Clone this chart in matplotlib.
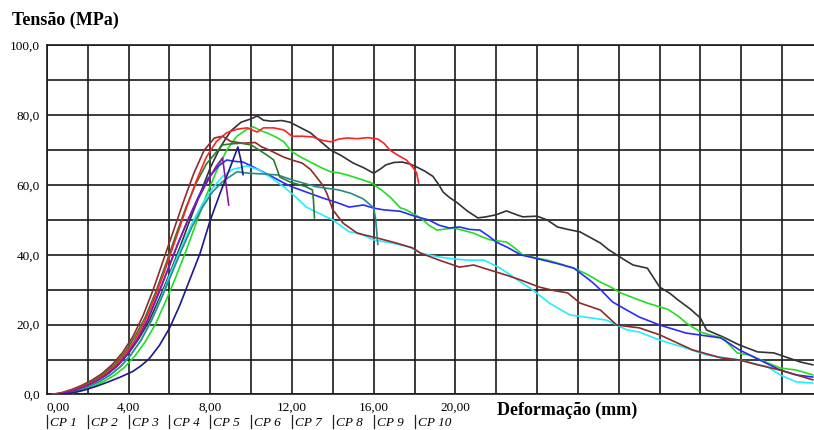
import numpy as np
import matplotlib
matplotlib.use("Agg")
from matplotlib import pyplot as plt
from matplotlib.transforms import blended_transform_factory

plt.rcParams['font.family'] = ['Liberation Serif', 'DejaVu Serif']

# curves (deformation mm, stress MPa)
x_black = [0.4, 1.0, 1.5, 2.0, 2.5, 3.0, 3.5, 4.0, 4.5, 5.0, 5.5, 6.0, 6.5, 7.0, 7.5, 8.0, 8.5, 9.0, 9.5, 10.0,
           10.3, 10.6, 11.0, 11.5, 11.9, 12.4, 12.9, 13.4, 13.9, 14.4, 15.0, 15.5, 16.0, 16.3, 16.6, 17.0, 17.4,
           17.8, 18.1, 18.5, 18.9, 19.2, 19.4, 19.7, 20.1, 20.6, 21.1, 21.5, 22.0, 22.5, 23.0, 23.3, 24.0, 24.5,
           25.0, 25.5, 26.1, 26.6, 27.1, 27.5, 27.9, 28.3, 28.7, 29.4, 29.7, 30.0, 30.5, 30.9, 31.5, 32.0, 32.3,
           33.1, 33.9, 34.8, 35.6, 36.2, 36.9, 37.5]
y_black = [0, 0.7, 1.6, 2.8, 4.2, 6.0, 8.5, 11.8, 16, 21, 27.5, 34.5, 42, 50, 57.5, 65, 71, 75.5, 78, 79,
           79.8, 78.6, 78.3, 78.5, 78, 76.5, 75, 72.5, 70, 68.5, 66.3, 65, 63.4, 64.5, 65.8, 66.5, 66.6,
           66, 65.2, 64, 62.5, 60, 58, 56.5, 54.9, 52.5, 50.6, 50.9, 51.5, 52.6, 51.5, 50.9, 51.1, 50,
           48, 47.3, 46.6, 45, 43.4, 41.5, 40, 38.5, 37.1, 36.2, 33.5, 30.8, 29, 27.1, 24.5, 21.9, 18.5,
           16.5, 14.2, 12.2, 11.9, 10.7, 9.3, 8.5]

x_red = [0.3, 0.8, 1.3, 1.8, 2.3, 2.8, 3.3, 3.8, 4.3, 4.8, 5.3, 5.8, 6.3, 6.8, 7.3, 7.8, 8.3, 8.8, 9.3, 9.8,
         10.3, 10.6, 11.1, 11.6, 12.0, 12.5, 13.0, 13.5, 13.9, 14.3, 14.7, 15.2, 15.7, 16.2, 16.5, 16.8, 17.2,
         17.6, 17.9, 18.1, 18.2]
y_red = [0, 0.5, 1.3, 2.4, 3.8, 5.6, 8, 11.3, 15.5, 21, 28, 36, 44.5, 53, 61, 68, 72.5, 75, 76, 76.4,
         75.2, 76.4, 76.4, 75.8, 74, 74, 73.8, 72.8, 72.4, 73.2, 73.5, 73.3, 73.6, 73.2, 72, 70, 68.5,
         67.2, 65.2, 63.5, 60.6]

x_green = [0.8, 1.3, 1.8, 2.3, 2.8, 3.3, 3.8, 4.3, 4.8, 5.3, 5.8, 6.3, 6.8, 7.3, 7.8, 8.3, 8.8, 9.3, 9.8, 10.1,
           10.5, 10.8, 11.2, 11.6, 12.0, 12.5, 13.0, 13.5, 13.9, 14.3, 14.7, 15.3, 15.9, 16.4, 16.8, 17.3, 17.6,
           18.3, 18.7, 19.1, 19.9, 20.4, 20.9, 21.3, 21.7, 22.5, 22.9, 23.3, 23.9, 24.5, 25.2, 25.8, 26.5, 27.1,
           27.6, 28.1, 28.8, 29.4, 30.4, 30.9, 31.3, 32.0, 32.5, 33.1, 33.8, 34.4, 35.2, 35.9, 36.7, 37.5]
y_green = [0, 0.5, 1.3, 2.4, 3.8, 5.5, 7.8, 11, 15, 20, 26.5, 33.5, 41, 49, 57, 64, 70, 74, 76, 76.7,
           75.5, 74.9, 73.8, 72.4, 69.5, 67.8, 66.3, 64.8, 63.8, 63.5, 62.9, 61.8, 60.6, 58.5, 56.6, 53.5, 52.9,
           50.6, 48.5, 47.1, 47.7, 47, 46.2, 45.2, 44.3, 43.7, 42, 40, 39.2, 38.5, 37.3, 36.2, 34.3, 32.2,
           30.8, 29.1, 27.5, 26.2, 24.4, 22.5, 20.5, 17.9, 17.0, 16.2, 11.9, 11.3, 9.3, 7.6, 7.0, 5.6]

x_blue = [0.4, 0.9, 1.4, 1.9, 2.4, 2.9, 3.4, 3.9, 4.4, 4.9, 5.4, 5.9, 6.4, 6.9, 7.4, 7.9, 8.4, 8.8, 9.2, 9.6,
          10.0, 10.4, 11.0, 11.6, 12.0, 12.7, 13.5, 14.2, 14.8, 15.5, 16.0, 16.5, 17.3, 18.1, 18.7, 19.2, 19.7,
          20.2, 20.7, 21.2, 21.6, 22.0, 22.6, 23.2, 23.8, 24.3, 25.0, 25.8, 26.3, 26.7, 27.2, 27.7, 28.3, 29.0,
          30.0, 31.3, 33.0, 33.9, 34.9, 35.9, 36.7, 37.5]
y_blue = [0, 0.5, 1.3, 2.4, 3.8, 5.6, 8, 11.3, 15.5, 21, 28, 35.5, 43, 50, 56.5, 62, 65.5, 67.2, 66.8, 66.6,
          65.5, 64.3, 62.5, 60.6, 59.5, 58, 56.3, 55, 53.7, 54.3, 53.4, 52.9, 52.5, 50.9, 50, 48.5, 47.7,
          48, 47.3, 47.1, 45.5, 43.7, 42, 40, 39.2, 38.5, 37.5, 36.2, 34, 32.2, 29.5, 26.5, 24.5, 22.2,
          19.9, 17.6, 16.2, 12.8, 9.9, 7.0, 5.6, 5.0]

x_cyan = [0.6, 1.1, 1.6, 2.1, 2.6, 3.1, 3.6, 4.1, 4.6, 5.1, 5.6, 6.1, 6.6, 7.1, 7.6, 8.1, 8.6, 9.1, 9.8,
          10.4, 11.0, 11.6, 12.2, 12.7, 13.5, 14.0, 14.8, 15.3, 16.0, 16.9, 17.8, 18.3, 19.2, 20.0, 20.6, 21.4,
          22.2, 23.0, 23.8, 24.6, 25.6, 26.7, 27.4, 28.4, 29.0, 30.0, 31.3, 32.3, 33.9, 35.3, 35.9, 36.7, 37.5]
y_cyan = [0, 0.5, 1.3, 2.4, 3.8, 5.6, 8, 11.3, 15.5, 21, 28, 35.5, 42.5, 49, 54.5, 59, 62.5, 64.5, 65.5,
          64.3, 62, 59.5, 56.5, 53.7, 51.4, 50, 46.6, 46.2, 44.3, 43.4, 42.2, 40.5, 39.4, 38.8, 38.5, 38.5,
          36.2, 33, 29.9, 26.2, 22.8, 21.9, 21.3, 18.5, 17.9, 15.6, 13.3, 11.3, 9.9, 7.9, 5.6, 3.6, 3.3]

x_brown = [0.2, 0.7, 1.2, 1.7, 2.2, 2.7, 3.2, 3.7, 4.2, 4.7, 5.2, 5.7, 6.2, 6.7, 7.2, 7.7, 8.2, 8.6, 9.0, 9.6,
           10.2, 10.5, 10.9, 11.6, 12.1, 12.5, 12.9, 13.2, 13.5, 13.7, 14.0, 14.5, 15.2, 15.7, 16.2, 17.1, 17.9,
           18.3, 19.2, 20.2, 20.9, 21.5, 22.0, 22.6, 23.2, 24.1, 24.8, 25.5, 26.1, 27.1, 27.9, 28.7, 29.0, 30.0,
           31.6, 33.0, 33.9, 34.8, 35.9, 36.7, 37.5]
y_brown = [0, 0.5, 1.4, 2.6, 4.1, 6, 8.6, 12, 16.5, 22.5, 30, 38.5, 47, 55.5, 63.5, 70, 73.5, 74, 72.5, 72,
           72.2, 71, 70, 68, 67, 66.3, 64.5, 62.3, 60, 57.7, 52.9, 49.1, 46.2, 45.5, 44.8, 43.4, 42,
           40.5, 38.5, 36.5, 37.1, 36, 35.1, 34, 32.8, 30.8, 29.8, 29.1, 26.2, 24.2, 19.9, 19.3, 19.1, 17.1,
           12.8, 10.5, 9.9, 8.5, 7.0, 5.6, 4.2]

x_teal = [0.6, 1.1, 1.6, 2.1, 2.6, 3.1, 3.6, 4.1, 4.6, 5.1, 5.6, 6.1, 6.6, 7.1, 7.6, 8.1, 8.6, 9.3, 9.9,
          10.5, 11.3, 12.0, 12.6, 13.2, 14.3, 14.9, 15.5, 16.0, 16.1, 16.2]
y_teal = [0, 0.5, 1.3, 2.4, 3.8, 5.6, 8, 11.3, 15.5, 21, 27.5, 34.5, 41.5, 48, 53.5, 58, 61, 63.8, 63.4,
          63.2, 62.9, 61.5, 60.5, 59.5, 58.6, 57.6, 56, 53.5, 50, 43]

x_dkgreen = [0.3, 0.8, 1.3, 1.8, 2.3, 2.8, 3.3, 3.8, 4.3, 4.8, 5.3, 5.8, 6.3, 6.8, 7.3, 7.8, 8.3, 8.6, 9.0, 9.5,
             10.0, 10.4, 10.8, 11.1, 11.3, 11.4, 11.9, 12.3, 12.7, 13.0, 13.05, 13.1]
y_dkgreen = [0, 0.5, 1.4, 2.6, 4.1, 6, 8.5, 12, 16.5, 22, 29, 37, 45.5, 53.5, 60.5, 66, 69.5, 71.5, 71.8, 72,
             71.5, 70, 68.5, 67.2, 64, 62.3, 60.9, 60.2, 59.5, 58.6, 55.7, 50.6]

x_purple = [0.4, 0.9, 1.4, 1.9, 2.4, 2.9, 3.4, 3.9, 4.4, 4.9, 5.4, 5.9, 6.4, 6.9, 7.4, 7.9, 8.3, 8.6, 8.75, 8.9]
y_purple = [0, 0.5, 1.3, 2.4, 3.8, 5.6, 8, 11.3, 15.5, 21, 28, 35.5, 43, 50, 56, 61.5, 65.5, 67.8, 61, 54.3]

x_navy = [0.6, 1.2, 1.8, 2.4, 3.0, 3.6, 4.2, 4.6, 5.0, 5.5, 6.0, 6.5, 7.0, 7.5, 8.0, 8.5, 9.0, 9.35, 9.5, 9.6]
y_navy = [0, 0.4, 1.2, 2.3, 3.6, 5, 6.6, 8.2, 10.2, 14, 19, 25.5, 33, 40.5, 50, 58, 65.5, 70.9, 67, 63]

legend_labels = ['CP 1', 'CP 2', 'CP 3', 'CP 4', 'CP 5', 'CP 6', 'CP 7', 'CP 8', 'CP 9', 'CP 10']
xtick_labels = ['0,00', '4,00', '8,00', '12,00', '16,00', '20,00']
ytick_labels = ['0,0', '20,0', '40,0', '60,0', '80,0', '100,0']

fig = plt.figure(figsize=(8.14, 4.30), dpi=100)
ax = fig.add_axes([0.0577, 0.0826, 0.9533, 0.8116])

curves = [
    (x_black, y_black, '#333333'),
    (x_green, y_green, '#22dd22'),
    (x_blue, y_blue, '#2a2aff'),
    (x_cyan, y_cyan, '#22eeff'),
    (x_brown, y_brown, '#8e2a2a'),
    (x_teal, y_teal, '#2a8a8a'),
    (x_dkgreen, y_dkgreen, '#2e7a2e'),
    (x_red, y_red, '#ff2222'),
    (x_purple, y_purple, '#8a1a9a'),
    (x_navy, y_navy, '#1a1a8a'),
]
for xs, ys, c in curves:
    ax.plot(xs, ys, color=c, lw=1.2, zorder=3, solid_joinstyle='round')

ax.set_xlim(0, 38)
ax.set_ylim(0, 100)

ax.set_xticks(np.arange(0, 39, 2))
xl = []
for v in np.arange(0, 39, 2):
    if v % 4 == 0 and v <= 20:
        xl.append(xtick_labels[v // 4])
    else:
        xl.append('')
ax.set_xticklabels(xl)
ax.set_yticks(np.arange(0, 101, 10))
ax.set_yticklabels([ytick_labels[v // 20] if v % 20 == 0 else '' for v in range(0, 101, 10)])
ax.tick_params(length=0, labelsize=9.5, pad=5)
ax.get_xticklabels()[0].set_horizontalalignment('left')

ax.grid(True, color='#1a1a1a', lw=1.2)
ax.set_axisbelow(True)
for s in ax.spines.values():
    s.set_color('#1a1a1a')
    s.set_linewidth(1.2)

fig.text(0.0147, 0.9535, 'Tensão (MPa)', fontsize=13, fontweight='bold', va='center', ha='left')
fig.text(0.6106, 0.0465, 'Deformação (mm)', fontsize=13, fontweight='bold', va='center', ha='left')

tr = blended_transform_factory(ax.transData, fig.transFigure)
for i, lab in enumerate(legend_labels):
    xpos = 2 * i
    ax.plot([xpos, xpos], [0.005, 0.035], transform=tr, color='#222222', lw=0.9, clip_on=False)
    ax.text(xpos + 0.15, 0.016, lab, transform=tr, fontsize=9.5, style='italic', va='center', ha='left')

fig.savefig('out.png', dpi=100)
